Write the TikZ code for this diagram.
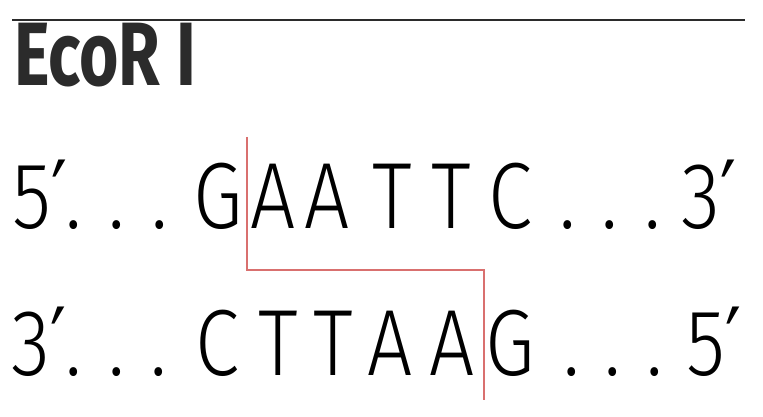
\documentclass[tikz,border=0pt]{standalone}
\usepackage{fontspec}
\newfontfamily\strandfont{Fira Sans Light}[FakeStretch=0.85]
\newfontfamily\titlefont{Fira Sans Bold}[FakeStretch=0.75]
\newfontfamily\primefont{DejaVu Sans}[FakeStretch=0.75]
\newcommand{\prm}{{\primefont ′}}
\usepackage{tikz}
\definecolor{cutred}{HTML}{D9706F}
\definecolor{inkgray}{HTML}{2B2B2B}

\begin{document}
\begin{tikzpicture}[x=1pt,y=-1pt,
  base/.style={inner sep=0pt,anchor=base,text=black,font=\strandfont\fontsize{94}{100}\selectfont},
  endlabel/.style={base,anchor=base west}]
\useasboundingbox (0,0) rectangle (763,417);
\coordinate (rl) at (12,20);
\coordinate (rr) at (745,20);
\draw [inkgray,line width=2pt] (rl) -- (rr);
\node [inner sep=0pt,anchor=base west,text=inkgray,font=\titlefont\fontsize{90}{95}\selectfont] (title) at (14,86) {EcoR I};
% upper strand
\node [endlabel] (u5) at (12,228) {5\prm};
\node [base] (ud1) at (74,228) {.};
\node [base] (ud2) at (117,228) {.};
\node [base] (ud3) at (160,228) {.};
\node [base] (ug) at (218,228) {G};
\node [base] (ua1) at (273,228) {A};
\node [base] (ua2) at (327,228) {A};
\node [base] (ut1) at (392,228) {T};
\node [base] (ut2) at (451,228) {T};
\node [base] (uc) at (510,228) {C};
\node [base] (ue1) at (568,228) {.};
\node [base] (ue2) at (610,228) {.};
\node [base] (ue3) at (653,228) {.};
\node [endlabel] (u3) at (681,228) {3\prm};
% lower strand
\node [endlabel] (l3) at (11,375) {3\prm};
\node [base] (ld1) at (74,375) {.};
\node [base] (ld2) at (117,375) {.};
\node [base] (ld3) at (159,375) {.};
\node [base] (lc) at (217,375) {C};
\node [base] (lt1) at (278,375) {T};
\node [base] (lt2) at (333,375) {T};
\node [base] (la1) at (390,375) {A};
\node [base] (la2) at (452,375) {A};
\node [base] (lg) at (510,375) {G};
\node [base] (le1) at (572,375) {.};
\node [base] (le2) at (613,375) {.};
\node [base] (le3) at (655,375) {.};
\node [endlabel] (l5) at (686,375) {5\prm};
% cut
\coordinate (cuttop) at (247,137);
\coordinate (cutbot) at (484,400);
\draw [cutred,line width=2.4pt] (cuttop) |- (cutbot |- 0,270) -- (cutbot);
\end{tikzpicture}
\end{document}
